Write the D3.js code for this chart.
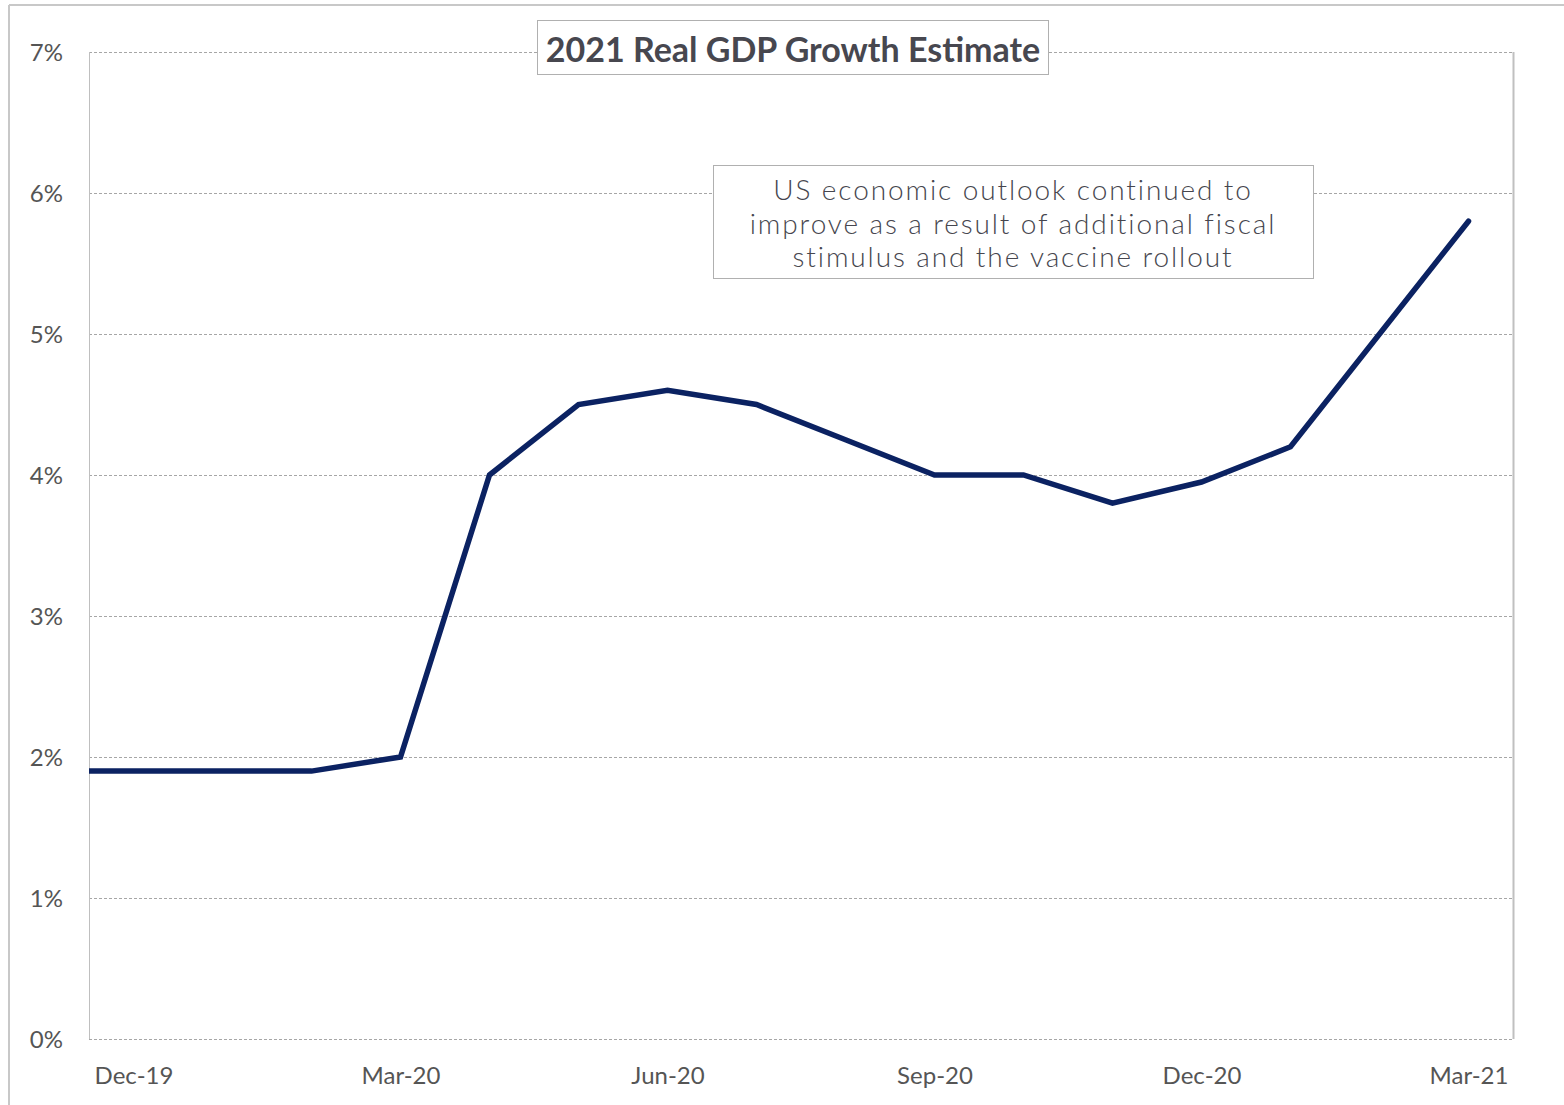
<!DOCTYPE html>
<html>
<head>
<meta charset="utf-8">
<script src="https://cdn.jsdelivr.net/npm/d3@7"></script>
<style>
  html, body { margin: 0; padding: 0; background: #fff; }
  svg { display: block; }
</style>
</head>
<body>
<svg id="chart" width="1564" height="1105"></svg>
<script>
// Monthly estimates of 2021 real GDP growth (%)
const months = ["Nov-19","Dec-19","Jan-20","Feb-20","Mar-20","Apr-20","May-20","Jun-20","Jul-20",
                "Aug-20","Sep-20","Oct-20","Nov-20","Dec-20","Jan-21","Feb-21","Mar-21"];
const growth = [1.9, 1.9, 1.9, 1.9, 2.0, 4.0, 4.5, 4.6, 4.5, 4.25, 4.0, 4.0, 3.8, 3.95, 4.2, 5.0, 5.8];
const xTickLabels = ["Dec-19","Mar-20","Jun-20","Sep-20","Dec-20","Mar-21"];
const yTicks = [0, 1, 2, 3, 4, 5, 6, 7];
const titleText = "2021 Real GDP Growth Estimate";
const noteLines = ["US economic outlook continued to",
                   "improve as a result of additional fiscal",
                   "stimulus and the vaccine rollout"];

const svg = d3.select("#chart");
const plot = { left: 89, right: 1513, top: 52, bottom: 1039 };

// outer chart frame (top and left edges visible)
svg.append("line").attr("x1", 9).attr("x2", 1564).attr("y1", 5).attr("y2", 5)
  .attr("stroke", "#c8c8c8").attr("stroke-width", 2);
svg.append("line").attr("x1", 9).attr("x2", 9).attr("y1", 5).attr("y2", 1105)
  .attr("stroke", "#c8c8c8").attr("stroke-width", 2);

// x: month index, Dec-19 = index 1; half-month padding on each side of Dec-19..Mar-21
const x = d3.scaleLinear().domain([0.5, 16.5]).range([plot.left, plot.right]);
const y = d3.scaleLinear().domain([0, 7]).range([plot.bottom, plot.top]);

// gridlines
svg.append("g").selectAll("line").data(yTicks).join("line")
  .attr("x1", plot.left).attr("x2", plot.right)
  .attr("y1", d => y(d) + 0.5).attr("y2", d => y(d) + 0.5)
  .attr("stroke", "#a6a6a6").attr("stroke-width", 1).attr("stroke-dasharray", "3,2");

// plot area side borders
svg.append("line").attr("x1", plot.left + 0.5).attr("x2", plot.left + 0.5)
  .attr("y1", plot.top).attr("y2", plot.bottom)
  .attr("stroke", "#bfbfbf").attr("stroke-width", 1);
svg.append("line").attr("x1", plot.right + 0.5).attr("x2", plot.right + 0.5)
  .attr("y1", plot.top).attr("y2", plot.bottom)
  .attr("stroke", "#c0c0c0").attr("stroke-width", 2);

const axisFont = "Lato, 'Open Sans', sans-serif";

// y axis labels
const yAxis = d3.axisLeft(y).tickValues(yTicks).tickFormat(d => d + "%").tickSize(0).tickPadding(0);
const yg = svg.append("g").attr("transform", `translate(63,0)`).call(yAxis);
yg.select(".domain").remove();
yg.selectAll("text")
  .attr("font-family", axisFont).attr("font-size", 24)
  .attr("fill", "#555555").attr("dy", "0.35em");

// x axis labels
const xAxis = d3.axisBottom(x)
  .tickValues(xTickLabels.map(m => months.indexOf(m)))
  .tickFormat(i => months[i]).tickSize(0).tickPadding(0);
const xg = svg.append("g").attr("transform", `translate(0,1076)`).call(xAxis);
xg.select(".domain").remove();
xg.selectAll("text")
  .attr("font-family", axisFont).attr("font-size", 24)
  .attr("fill", "#555555").attr("dy", "0.35em");

// series line, clipped to plot area
svg.append("clipPath").attr("id", "plotClip").append("rect")
  .attr("x", plot.left).attr("y", 0).attr("width", plot.right - plot.left).attr("height", plot.bottom);
const line = d3.line().x((d, i) => x(i)).y(d => y(d));
svg.append("path").datum(growth)
  .attr("clip-path", "url(#plotClip)")
  .attr("d", line).attr("fill", "none")
  .attr("stroke", "#0b2262").attr("stroke-width", 5.5)
  .attr("stroke-linejoin", "miter").attr("stroke-linecap", "round");

// title box
svg.append("rect").attr("x", 537.5).attr("y", 20.5).attr("width", 511).attr("height", 54)
  .attr("fill", "#fff").attr("stroke", "#b0b0b0").attr("stroke-width", 1);
svg.append("text").attr("x", 793).attr("y", 62).attr("text-anchor", "middle")
  .attr("font-family", "Lato, 'Open Sans', sans-serif").attr("font-weight", "bold")
  .attr("font-size", 34).attr("fill", "#47474f").text(titleText);

// annotation box
svg.append("rect").attr("x", 713.5).attr("y", 165.5).attr("width", 600).attr("height", 113)
  .attr("fill", "#fff").attr("stroke", "#b0b0b0").attr("stroke-width", 1);
svg.append("g").selectAll("text").data(noteLines).join("text")
  .attr("x", 1013).attr("y", (d, i) => 200 + i * 33.5).attr("text-anchor", "middle")
  .attr("font-family", "Lato, 'Open Sans', sans-serif").attr("font-weight", 300)
  .attr("font-size", 28).attr("fill", "#46464e").attr("letter-spacing", 1.9)
  .text(d => d);
</script>
</body>
</html>
